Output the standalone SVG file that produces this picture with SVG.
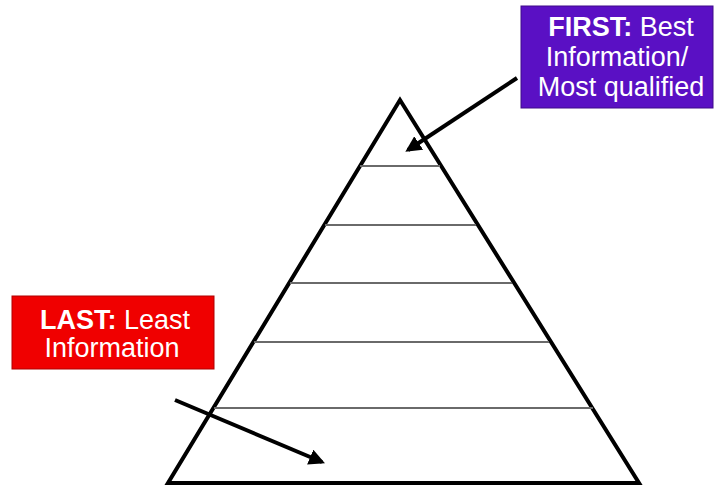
<svg xmlns="http://www.w3.org/2000/svg" width="716" height="488" viewBox="0 0 716 488">
<style>
.lbl{font-family:"Liberation Sans",Arial,sans-serif;font-size:27px;fill:#fff}
.b{font-weight:bold}
.tier{stroke:#6a6a6a;stroke-width:2;fill:none}
.arr{stroke:#000;stroke-width:4;fill:none}
</style>
<defs>
<marker id="ah" viewBox="0 0 10 10" refX="8" refY="5" markerWidth="4" markerHeight="4" orient="auto" markerUnits="strokeWidth">
<path d="M0,0 L10,5 L0,10 z" fill="#000"/>
</marker>
</defs>
<rect width="716" height="488" fill="#fff"/>
<g id="pyramid">
<polygon points="400,100 168,483 639,483" fill="none" stroke="#000" stroke-width="4" stroke-linejoin="miter"/>
<line class="tier" x1="360" y1="166" x2="440" y2="166"/>
<line class="tier" x1="325" y1="225" x2="476" y2="225"/>
<line class="tier" x1="290" y1="283" x2="512" y2="283"/>
<line class="tier" x1="254" y1="342" x2="549" y2="342"/>
<line class="tier" x1="214" y1="408" x2="593" y2="408"/>
</g>
<g id="first">
<rect x="521" y="6" width="192" height="102" fill="#5a10c4" stroke="#3f0a8a" stroke-width="1"/>
<text class="lbl" text-anchor="middle"><tspan x="621" y="36"><tspan class="b">FIRST:</tspan> Best</tspan><tspan x="617" y="66">Information/</tspan><tspan x="621" y="96">Most qualified</tspan></text>
</g>
<g id="last">
<rect x="12" y="296" width="202" height="73" fill="#f00000" stroke="#b00000" stroke-width="1"/>
<text class="lbl" text-anchor="middle"><tspan x="115" y="329"><tspan class="b">LAST:</tspan> Least</tspan><tspan x="112" y="357">Information</tspan></text>
</g>
<g id="connectors">
<line class="arr" x1="517" y1="78" x2="408" y2="150" marker-end="url(#ah)"/>
<line class="arr" x1="175" y1="400" x2="322" y2="462" marker-end="url(#ah)"/>
</g>
</svg>
